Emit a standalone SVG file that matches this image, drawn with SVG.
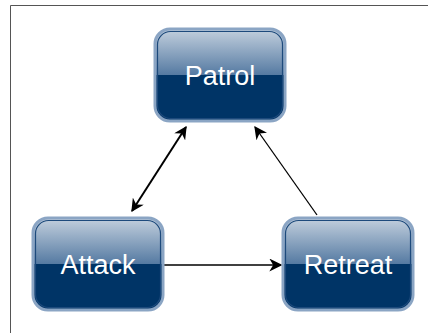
<svg xmlns="http://www.w3.org/2000/svg" width="428" height="333" viewBox="0 0 428 333">
<defs>
<linearGradient id="top" x1="0" y1="0" x2="0" y2="1">
<stop offset="0" stop-color="#c3d0de"/>
<stop offset="1" stop-color="#557aa2"/>
</linearGradient>
<clipPath id="cp"><rect x="0" y="0" width="130" height="92" rx="15"/></clipPath>
<marker id="ah2" viewBox="0 0 10 10" refX="9" refY="5" markerWidth="13" markerHeight="13" orient="auto-start-reverse" markerUnits="userSpaceOnUse">
<path d="M0,0 L10,5 L0,10 L3,5 Z" fill="#000"/>
</marker>
</defs>
<style>
.lbl{font-family:"Liberation Sans",Arial,sans-serif;font-size:27px;fill:#ffffff;text-anchor:middle}
.edge{fill:none;stroke:#000}
</style>
<rect x="0" y="0" width="428" height="333" fill="#ffffff"/>
<path d="M10.5,333 V5.5 H428" fill="none" stroke="#555555" stroke-width="1"/>
<g id="connectors">
<line class="edge" x1="132" y1="211" x2="186" y2="127" stroke-width="2" marker-start="url(#ah2)" marker-end="url(#ah2)"/>
<line class="edge" x1="317" y1="215" x2="255" y2="127" stroke-width="1.3" marker-end="url(#ah2)"/>
<line class="edge" x1="163" y1="265" x2="281" y2="265" stroke-width="1.3" marker-end="url(#ah2)"/>
</g>
<g id="patrol" transform="translate(155,29)">
<g clip-path="url(#cp)">
<rect x="0" y="0" width="130" height="46" fill="url(#top)"/>
<rect x="0" y="46" width="130" height="46" fill="#003466"/>
</g>
<rect x="0" y="0" width="130" height="92" rx="15" fill="none" stroke="#8ba5c4" stroke-width="3"/>
<rect x="2.5" y="2.5" width="125" height="87" rx="13" fill="none" stroke="#1d4a7c" stroke-width="1.2"/>
<text class="lbl" x="65" y="56">Patrol</text>
</g>
<g id="attack" transform="translate(33,218)">
<g clip-path="url(#cp)">
<rect x="0" y="0" width="130" height="46" fill="url(#top)"/>
<rect x="0" y="46" width="130" height="46" fill="#003466"/>
</g>
<rect x="0" y="0" width="130" height="92" rx="15" fill="none" stroke="#8ba5c4" stroke-width="3"/>
<rect x="2.5" y="2.5" width="125" height="87" rx="13" fill="none" stroke="#1d4a7c" stroke-width="1.2"/>
<text class="lbl" x="65" y="56">Attack</text>
</g>
<g id="retreat" transform="translate(283,218)">
<g clip-path="url(#cp)">
<rect x="0" y="0" width="130" height="46" fill="url(#top)"/>
<rect x="0" y="46" width="130" height="46" fill="#003466"/>
</g>
<rect x="0" y="0" width="130" height="92" rx="15" fill="none" stroke="#8ba5c4" stroke-width="3"/>
<rect x="2.5" y="2.5" width="125" height="87" rx="13" fill="none" stroke="#1d4a7c" stroke-width="1.2"/>
<text class="lbl" x="65" y="56">Retreat</text>
</g>
</svg>
